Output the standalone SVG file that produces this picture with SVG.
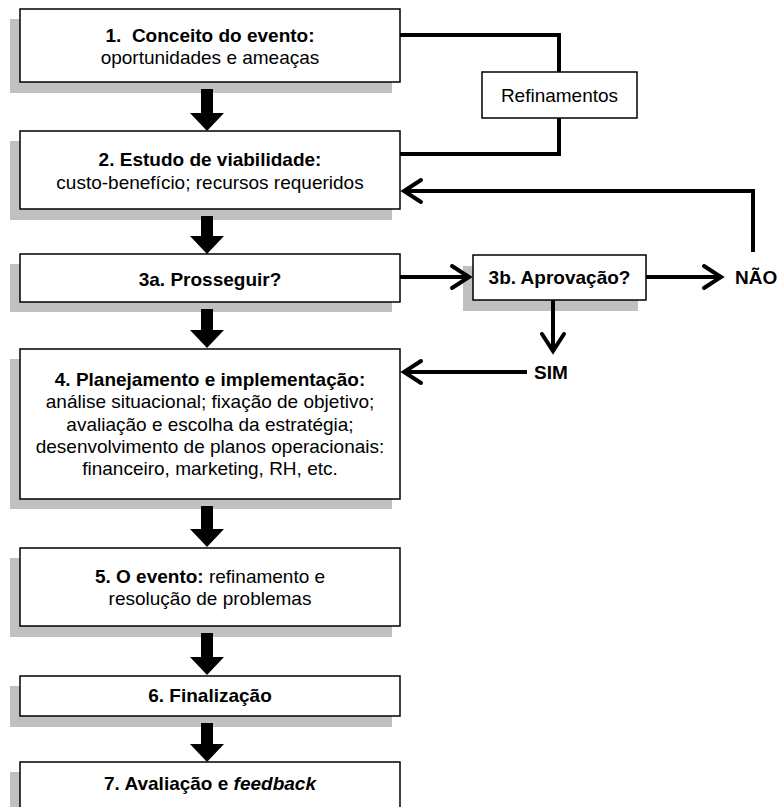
<svg xmlns="http://www.w3.org/2000/svg" width="778" height="807" viewBox="0 0 778 807">
<defs>
<style>
.sh{fill:#c0c0c0;stroke:none}
.bx{fill:#fff;stroke:#000;stroke-width:1.5}
.t{font-family:"Liberation Sans",Arial,sans-serif;font-size:19px;fill:#000;text-anchor:middle}
.b{font-weight:bold}
.ln{fill:none;stroke:#000;stroke-width:4}
.blk{fill:#000;stroke:none}
</style>
<marker id="chev" markerUnits="userSpaceOnUse" markerWidth="30" markerHeight="30" viewBox="-22 -15 26 30" refX="0" refY="0" orient="auto">
<path d="M-17,-11 L0,0 L-17,11" fill="none" stroke="#000" stroke-width="4" stroke-linecap="round"/>
</marker>
</defs>
<rect width="778" height="807" fill="#fff"/>

<g id="node1">
<rect class="sh" x="10" y="19" width="382" height="74"/>
<rect class="bx" x="20" y="9" width="380" height="73"/>
<text class="t b" x="210" y="42" xml:space="preserve">1.  Conceito do evento:</text>
<text class="t" x="210" y="64">oportunidades e ameaças</text>
</g>
<g id="node2">
<rect class="sh" x="10" y="141" width="382" height="79"/>
<rect class="bx" x="20" y="131" width="380" height="78"/>
<text class="t b" x="210" y="166">2. Estudo de viabilidade:</text>
<text class="t" x="210" y="189">custo-benefício; recursos requeridos</text>
</g>
<g id="node3a">
<rect class="sh" x="10" y="264" width="382" height="48"/>
<rect class="bx" x="20" y="254" width="380" height="48"/>
<text class="t b" x="210" y="286">3a. Prosseguir?</text>
</g>
<g id="node3b">
<rect class="sh" x="463" y="266" width="175" height="45"/>
<rect class="bx" x="473" y="255" width="173" height="45"/>
<text class="t b" x="559.5" y="284">3b. Aprovação?</text>
</g>
<g id="nodeRef">
<rect class="bx" x="482" y="72" width="155" height="46"/>
<text class="t" x="559.5" y="102">Refinamentos</text>
</g>
<g id="node4">
<rect class="sh" x="10" y="359" width="382" height="150"/>
<rect class="bx" x="20" y="349" width="380" height="150"/>
<text class="t b" x="210" y="386">4. Planejamento e implementação:</text>
<text class="t" x="210" y="408">análise situacional; fixação de objetivo;</text>
<text class="t" x="210" y="431">avaliação e escolha da estratégia;</text>
<text class="t" x="210" y="453">desenvolvimento de planos operacionais:</text>
<text class="t" x="210" y="475">financeiro, marketing, RH, etc.</text>
</g>
<g id="node5">
<rect class="sh" x="10" y="558" width="382" height="79"/>
<rect class="bx" x="20" y="548" width="380" height="78"/>
<text class="t" x="210" y="583"><tspan class="b">5. O evento:</tspan> refinamento e</text>
<text class="t" x="210" y="605">resolução de problemas</text>
</g>
<g id="node6">
<rect class="sh" x="10" y="686" width="382" height="41"/>
<rect class="bx" x="20" y="676" width="380" height="40"/>
<text class="t b" x="210" y="702">6. Finalização</text>
</g>
<g id="node7">
<rect class="sh" x="10" y="772" width="382" height="60"/>
<rect class="bx" x="20" y="762" width="380" height="60"/>
<text class="t b" x="210" y="790">7. Avaliação e <tspan font-style="italic">feedback</tspan></text>
</g>

<g id="connectors">
<path class="blk" d="M201,89 H213 V113 H224 L207,131 L190,113 H201 Z"/>
<path class="blk" d="M201,216 H213 V236 H224 L207,254 L190,236 H201 Z"/>
<path class="blk" d="M201,309 H213 V330 H224 L207,348 L190,330 H201 Z"/>
<path class="blk" d="M201,506 H213 V529 H224 L207,547 L190,529 H201 Z"/>
<path class="blk" d="M201,633 H213 V657 H224 L207,675 L190,657 H201 Z"/>
<path class="blk" d="M201,723 H213 V744 H224 L207,762 L190,744 H201 Z"/>
<path class="ln" d="M400,35 H559 V72"/>
<path class="ln" d="M559,118 V154 H400"/>
<path class="ln" d="M753,252 V191 H404" marker-end="url(#chev)"/>
<path class="ln" d="M400,277 H469" marker-end="url(#chev)"/>
<path class="ln" d="M646,277 H721" marker-end="url(#chev)"/>
<path class="ln" d="M553,300 V351" marker-end="url(#chev)"/>
<path class="ln" d="M527,372 H404" marker-end="url(#chev)"/>
</g>
<g id="labels">
<text class="t b" x="735" y="284" style="text-anchor:start">NÃO</text>
<text class="t b" x="551" y="379">SIM</text>
</g>
</svg>
